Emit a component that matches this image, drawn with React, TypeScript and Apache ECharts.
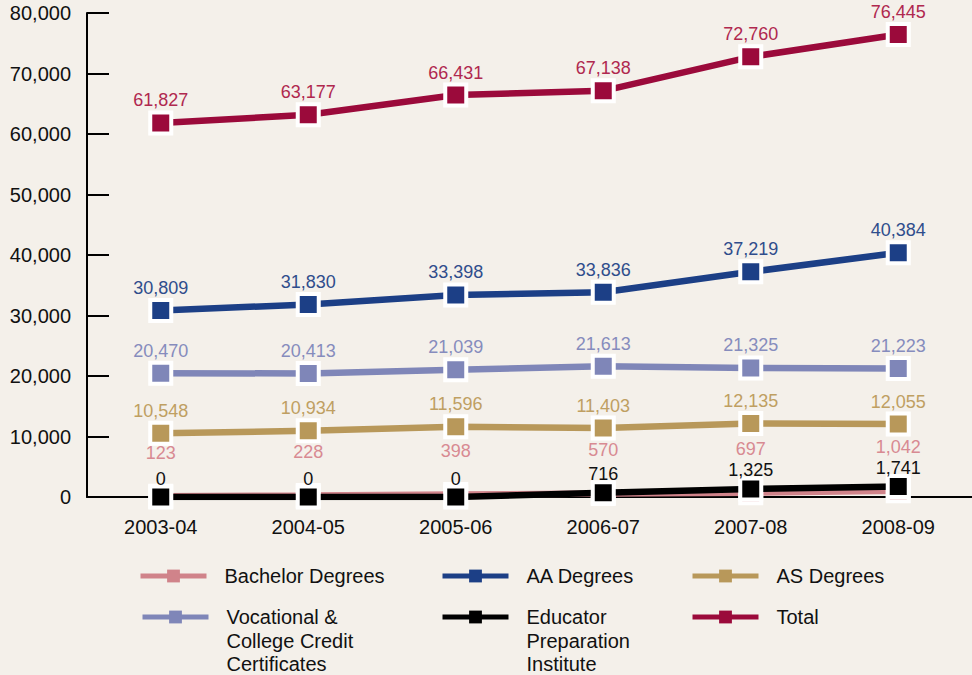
import React, { useEffect, useRef } from "react";
import * as echarts from "echarts";

const categories = ["2003-04", "2004-05", "2005-06", "2006-07", "2007-08", "2008-09"];
const bachelor = [123, 228, 398, 570, 697, 1042];
const aa = [30809, 31830, 33398, 33836, 37219, 40384];
const as = [10548, 10934, 11596, 11403, 12135, 12055];
const vocational = [20470, 20413, 21039, 21613, 21325, 21223];
const epi = [0, 0, 0, 716, 1325, 1741];
const total = [61827, 63177, 66431, 67138, 72760, 76445];
const yTicks = { min: 0, max: 80000, interval: 10000 };

const FONT = "'Liberation Sans', Arial, sans-serif";

const fmt = (v: number) => v.toLocaleString("en-US");

export default function App() {
  const ref = useRef<HTMLDivElement>(null);
  useEffect(() => {
    document.body.style.margin = "0";
    const chart = echarts.init(ref.current!, undefined, { renderer: "svg" });

    const mk = (name: string, data: number[], color: string, labelColor: string, dist: number, z: number) => ({
      name,
      type: "line",
      data,
      z,
      symbol: "rect",
      symbolSize: 21,
      lineStyle: { color, width: 6.5 },
      itemStyle: { color, borderColor: "#ffffff", borderWidth: 4 },
      label: {
        show: true,
        position: "top",
        distance: dist,
        color: labelColor,
        fontFamily: FONT,
        fontSize: 18,
        formatter: (p: any) => fmt(p.value),
      },
    });

    const LH = 23.5;
    const legendItems = [
      { name: "Bachelor Degrees", x: 138, y: 576, lines: 1 },
      { name: "AA Degrees", x: 440, y: 576, lines: 1 },
      { name: "AS Degrees", x: 690, y: 576, lines: 1 },
      { name: "Vocational &\nCollege Credit\nCertificates", x: 140, y: 617, lines: 3 },
      { name: "Educator\nPreparation\nInstitute", x: 440, y: 617, lines: 3 },
      { name: "Total", x: 690, y: 617, lines: 1 },
    ];

    const legends = legendItems.map((it) => {
      const blanks = it.lines - 1;
      const totalLines = it.lines + blanks;
      const boxH = totalLines * LH;
      return {
        data: [it.name],
        left: it.x,
        top: it.y - boxH / 2,
        padding: 0,
        itemWidth: 66,
        itemHeight: 16,
        selectedMode: false,
        itemStyle: { borderWidth: 0 },
        lineStyle: { width: 5 },
        formatter: (n: string) => "\n".repeat(blanks) + n,
        textStyle: {
          fontFamily: FONT,
          fontSize: 20,
          color: "#111",
          lineHeight: LH,
          padding: [0, 0, 0, 13],
        },
      };
    });

    chart.setOption({
      animation: false,
      backgroundColor: "#f4f0ea",
      grid: { left: 87, top: 13, width: 894, height: 484 },
      legend: legends,
      xAxis: {
        type: "category",
        data: categories,
        boundaryGap: true,
        axisLine: { lineStyle: { color: "#000", width: 2 } },
        axisTick: { inside: true, length: 8, lineStyle: { color: "#000", width: 2 } },
        axisLabel: { color: "#111", fontFamily: FONT, fontSize: 20, margin: 20 },
      },
      yAxis: {
        type: "value",
        min: yTicks.min,
        max: yTicks.max,
        interval: yTicks.interval,
        splitLine: { show: false },
        axisLine: { show: true, lineStyle: { color: "#000", width: 2 } },
        axisTick: { show: true, inside: true, length: 22, lineStyle: { color: "#000", width: 2 } },
        axisLabel: { color: "#111", fontFamily: FONT, fontSize: 20, margin: 16, formatter: (v: number) => fmt(v) },
      },
      series: [
        mk("Bachelor Degrees", bachelor, "#d0838a", "#d88a92", 22, 2),
        mk("AS Degrees", as, "#b8985a", "#bf9f62", 1, 3),
        mk("Vocational &\nCollege Credit\nCertificates", vocational, "#7f86b8", "#868cbd", 1, 4),
        mk("AA Degrees", aa, "#1c3f86", "#2f4d8c", 1, 5),
        mk("Total", total, "#9b0a3b", "#b0284f", 1, 6),
        mk("Educator\nPreparation\nInstitute", epi, "#000000", "#111111", -3, 7),
      ],
    });
    return () => chart.dispose();
  }, []);
  return <div ref={ref} style={{ width: 972, height: 675 }} />;
}
